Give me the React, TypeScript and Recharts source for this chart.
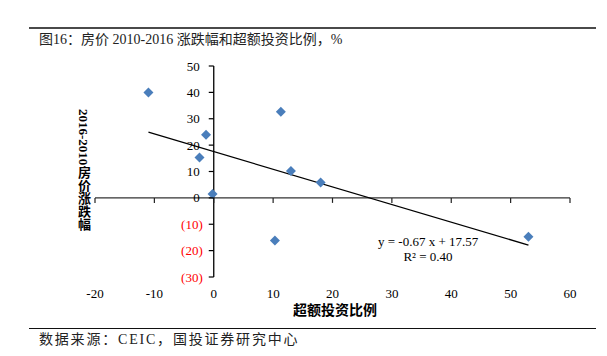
import { ScatterChart, Scatter, XAxis, YAxis, ReferenceLine } from "recharts";

// excess investment ratio (x) vs 2016-2010 house price change (y)
const investRatio = [-11, 11.3, -1.3, -2.4, 13.0, -0.2, 10.3, 18.0, 53.0];
const priceChange = [40, 32.7, 23.9, 15.3, 10.2, 1.5, -16.2, 5.8, -14.7];

// trend line end points (y = -0.67x + 17.57)
const trendX = [-11, 53];
const trendY = [24.9, -17.9];

const xTicks = [-20, -10, 0, 10, 20, 30, 40, 50, 60];
const yTicks = [-30, -20, -10, 0, 10, 20, 30, 40, 50];

const points = investRatio.map((x, i) => ({ x, y: priceChange[i] }));

const W = 607;
const H = 356;
const LEFT = 95;
const RIGHT = 570;
const TOP = 66;
const BOTTOM = 277;
const X_MIN = -20;
const X_MAX = 60;
const Y_MIN = -30;
const Y_MAX = 50;

const zeroX = LEFT + ((0 - X_MIN) / (X_MAX - X_MIN)) * (RIGHT - LEFT);
const zeroY = TOP + ((Y_MAX - 0) / (Y_MAX - Y_MIN)) * (BOTTOM - TOP);

const serif = '"Liberation Serif", "Times New Roman", "Noto Sans CJK SC", serif';
const cjk = '"Liberation Serif", "Noto Sans CJK SC", sans-serif';

const fmtY = (v: number) => (v < 0 ? `(${Math.abs(v)})` : `${v}`);

function XTick(props: any) {
  const { x, payload } = props;
  return (
    <g>
      <line x1={x} x2={x} y1={zeroY} y2={zeroY + 5} stroke="#222" strokeWidth={1.2} />
      <text
        x={x}
        y={BOTTOM + 16}
        dy="0.35em"
        textAnchor="middle"
        fontSize={13}
        fontFamily={serif}
        fill="#000"
      >
        {payload.value}
      </text>
    </g>
  );
}

function YTick(props: any) {
  const { y, payload } = props;
  const v = payload.value as number;
  return (
    <g>
      <line x1={zeroX - 5} x2={zeroX} y1={y} y2={y} stroke="#000" strokeWidth={1.2} />
      <text
        x={v < 0 ? zeroX - 11 : zeroX - 14}
        y={y}
        dy="0.35em"
        textAnchor="end"
        fontSize={13}
        fontFamily={serif}
        fill={v < 0 ? "#ff0000" : "#000"}
      >
        {fmtY(v)}
      </text>
    </g>
  );
}

function Diamond(props: any) {
  const { cx, cy } = props;
  const r = 5;
  return (
    <polygon
      points={`${cx},${cy - r} ${cx + r},${cy} ${cx},${cy + r} ${cx - r},${cy}`}
      fill="#4a7ebb"
    />
  );
}

export default function App() {
  return (
    <div
      style={{
        position: "absolute",
        left: 0,
        top: 0,
        width: W,
        height: H,
        background: "#fff",
        overflow: "hidden",
      }}
    >
      <div style={{ position: "absolute", left: 29, top: 27, width: 567, height: 2, background: "#4a4a4a" }} />
      <div
        style={{
          position: "absolute",
          left: 39,
          top: 31,
          fontSize: 14,
          lineHeight: "18px",
          fontFamily: cjk,
          color: "#222",
          whiteSpace: "nowrap",
        }}
      >
        图16：房价 2010-2016 涨跌幅和超额投资比例，%
      </div>

      <ScatterChart
        width={W}
        height={H}
        margin={{ top: TOP, right: W - RIGHT, bottom: H - BOTTOM - 30, left: LEFT - 10 }}
        style={{ position: "absolute", left: 0, top: 0 }}
      >
        <XAxis
          type="number"
          dataKey="x"
          domain={[X_MIN, X_MAX]}
          ticks={xTicks}
          axisLine={false}
          tickLine={false}
          height={30}
          tick={<XTick />}
          interval={0}
        />
        <YAxis
          type="number"
          dataKey="y"
          domain={[Y_MIN, Y_MAX]}
          ticks={yTicks}
          axisLine={false}
          tickLine={false}
          width={10}
          tick={<YTick />}
          interval={0}
        />
        <ReferenceLine y={0} stroke="#333" strokeWidth={1.3} />
        <ReferenceLine x={0} stroke="#000" strokeWidth={1.3} />
        <ReferenceLine
          segment={[
            { x: trendX[0], y: trendY[0] },
            { x: trendX[1], y: trendY[1] },
          ]}
          stroke="#000"
          strokeWidth={1.3}
        />
        <Scatter data={points} shape={<Diamond />} isAnimationActive={false} />
      </ScatterChart>

      <div
        style={{
          position: "absolute",
          left: 378,
          top: 234,
          width: 100,
          textAlign: "center",
          fontSize: 13,
          lineHeight: "15px",
          fontFamily: serif,
          color: "#000",
          whiteSpace: "nowrap",
        }}
      >
        y = -0.67 x + 17.57
        <br />
        R² = 0.40
      </div>

      <div
        style={{
          position: "absolute",
          left: 76,
          top: 109,
          writingMode: "vertical-rl",
          fontSize: 13,
          fontWeight: "bold",
          lineHeight: "15px",
          fontFamily: cjk,
          color: "#000",
          whiteSpace: "nowrap",
        }}
      >
        2016-2010房价涨跌幅
      </div>

      <div
        style={{
          position: "absolute",
          left: 285,
          top: 302,
          width: 100,
          textAlign: "center",
          fontSize: 14,
          fontWeight: "bold",
          lineHeight: "18px",
          fontFamily: cjk,
          color: "#000",
          whiteSpace: "nowrap",
        }}
      >
        超额投资比例
      </div>

      <div style={{ position: "absolute", left: 29, top: 328, width: 567, height: 1, background: "#111" }} />
      <div
        style={{
          position: "absolute",
          left: 39,
          top: 331,
          fontSize: 14,
          lineHeight: "18px",
          letterSpacing: "1.8px",
          fontFamily: cjk,
          color: "#222",
          whiteSpace: "nowrap",
        }}
      >
        数据来源：CEIC，国投证券研究中心
      </div>
    </div>
  );
}
